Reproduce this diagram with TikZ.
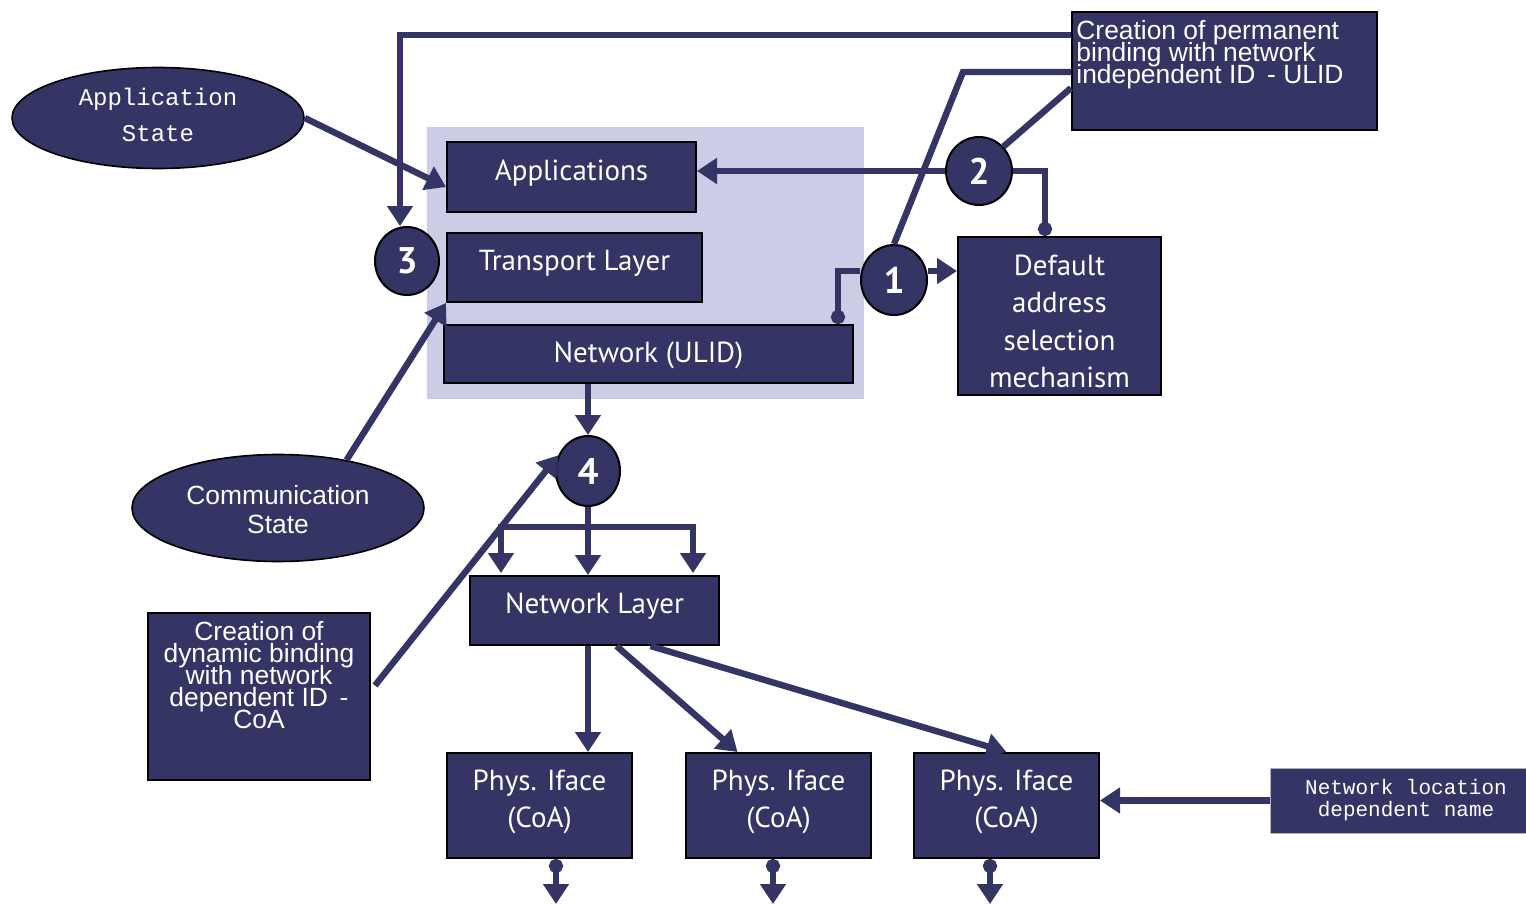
\documentclass[tikz,border=0pt]{standalone}
\usepackage{fontspec}
\setmainfont{PT Sans}
\newfontfamily\condf{Liberation Sans}
\newfontfamily\monof{Liberation Mono}
\usetikzlibrary{arrows.meta,shapes.geometric,calc}
\definecolor{navy}{RGB}{52,52,101}
\definecolor{lav}{RGB}{204,204,230}
\begin{document}
\begin{tikzpicture}[x=0.5pt,y=-0.5pt,
  box/.style={draw=black,line width=1pt,fill=navy,inner sep=0pt},
  btxt/.style={text=white,inner sep=0pt,align=center,font=\fontsize{14.5}{18.75}\selectfont},
  oval/.style={ellipse,draw=black,line width=0.8pt,fill=navy,inner sep=0pt},
  num/.style={ellipse,draw=black,line width=1pt,fill=navy,text=white,inner sep=0pt,font=\fontsize{18.5}{18}\bfseries\selectfont},
  ctext/.style={text=white,inner sep=0pt,font={\condf\fontsize{13.2}{11}\selectfont\lineskiplimit=-30pt\lineskip=0pt}},
  conn/.style={draw=navy,line width=3.2pt},
  arr/.style={conn,-{Triangle[length=10pt,width=12.5pt]}},
  dot/.style={conn,{Circle[length=7pt]}-},
  dotarr/.style={conn,{Circle[length=7pt]}-{Triangle[length=10pt,width=12.5pt]}},
  dotend/.style={conn,-{Circle[length=7pt]}}
]
\useasboundingbox (0,0) rectangle (1526,904);
% background panel
\fill[lav] (427,127) rectangle (864,399);

% boxes
\node[box,minimum width=124.5pt,minimum height=35pt,label={[btxt,yshift=2pt]center:Applications}] (app) at (571.5,177) {};
\node[box,minimum width=127.5pt,minimum height=34.5pt,label={[btxt,yshift=2pt]center:Transport Layer}] (trans) at (574.5,267.5) {};
\node[box,minimum width=204.5pt,minimum height=29pt,label={[btxt,yshift=-0.5pt]center:Network (ULID)}] (netulid) at (648.5,354) {};
\node[box,minimum width=101.5pt,minimum height=79pt,label={[btxt,yshift=-2.6pt]center:Default\\address\\selection\\mechanism}] (defsel) at (1059.5,316) {};
\node[box,minimum width=152.5pt,minimum height=59pt] (perm) at (1224.5,71) {};
\node[ctext,anchor=north west,align=left] (permT) at (1076,20) {Creation of permanent\\binding with network\\independent ID\, - ULID};
\node[box,minimum width=111pt,minimum height=83.5pt] (dyn) at (259,696.5) {};
\node[ctext,anchor=north,align=center] (dynT) at (259,621) {Creation of\\dynamic binding\\with network\\dependent ID\, -\\CoA};
\node[box,minimum width=124.5pt,minimum height=34.5pt,label={[btxt,yshift=2pt]center:Network Layer}] (netlayer) at (594.5,610.5) {};
\node[box,minimum width=92.5pt,minimum height=52.5pt,label={[btxt,yshift=1.8pt]center:Phys. Iface\\(CoA)}] (phys1) at (539.5,805.5) {};
\node[box,minimum width=92.5pt,minimum height=52.5pt,label={[btxt,yshift=1.8pt]center:Phys. Iface\\(CoA)}] (phys2) at (778.5,805.5) {};
\node[box,minimum width=92.5pt,minimum height=52.5pt,label={[btxt,yshift=1.8pt]center:Phys. Iface\\(CoA)}] (phys3) at (1006.5,805.5) {};
\node[box,draw=gray!60,line width=0.5pt,minimum width=128pt,minimum height=32.5pt,label={[btxt,xshift=4pt,font=\monof\fontsize{10.5}{11}\selectfont]center:Network location\\dependent name}] (netloc) at (1398,800.5) {};

% ellipses
\node[oval,minimum width=146pt,minimum height=50.5pt,label={[btxt,yshift=1.5pt,font=\monof\fontsize{12}{18}\selectfont]center:Application\\State}] (appstate) at (158,118) {};
\node[oval,minimum width=146pt,minimum height=53.5pt,label={[btxt,yshift=-1pt,font=\condf\fontsize{13.2}{14.5}\selectfont]center:Communication\\State}] (commstate) at (278,508) {};

% numbered circles
\node[num,minimum width=32pt,minimum height=34pt] (c3) at (407,261) {3};
\node[num,minimum width=33pt,minimum height=34pt] (c2) at (979,171) {2};
\node[num,minimum width=33pt,minimum height=35pt] (c1) at (894,280) {1};
\node[num,minimum width=32pt,minimum height=35pt] (c4) at (588,471) {4};

% connectors
\draw[arr] (perm.west |- 0,35) -- (400,35) -- (c3.north -| 400,0);
\draw[conn] (perm.west |- 0,72) -- (963,72) -- (c1.north);
\draw[conn] (perm.west |- 0,88) -- (c2.45);
\draw[arr] (c2.west) -- (app.east |- c2.west);
\draw[dotend] (c2.east) -- (1045,171) -- (defsel.north -| 1045,0);
\draw[dot] (netulid.north -| 838,0) -- (838,271) -- (c1.west |- 0,271);
\draw[arr] (c1.east |- 0,271) -- (defsel.west |- 0,271);
\draw[arr] (appstate.east) -- (app.west |- 0,187);
\draw[arr] (commstate.35) -- (trans.south west);
\draw[arr] (netulid.south -| c4.north) -- (c4.north);
\coordinate (br) at (c4.south |- 0,527);
\draw[arr] (c4.south) -- (c4.south |- netlayer.north);
\draw[arr] (br) -- (501,527) -- (501,573);
\draw[arr] (br) -- (693,527) -- (693,573);
\draw[arr] ($(dyn.east)+(4,-11)$) -- (c4.152);
\draw[arr] (netlayer.south -| c4.south) -- (phys1.north -| c4.south);
\draw[arr] ($(netlayer.south)+(22,0)$) -- ($(phys2.north)+(-41,0)$);
\draw[arr] ($(netlayer.south)+(56,0)$) -- (phys3.north);
\draw[arr] (netloc.west) -- (phys3.east |- netloc.west);
\coordinate (e1) at (556,904);
\coordinate (e2) at (773,904);
\coordinate (e3) at (990,904);
\draw[dotarr] (phys1.south -| e1) -- (e1);
\draw[dotarr] (phys2.south -| e2) -- (e2);
\draw[dotarr] (phys3.south -| e3) -- (e3);
\end{tikzpicture}
\end{document}
